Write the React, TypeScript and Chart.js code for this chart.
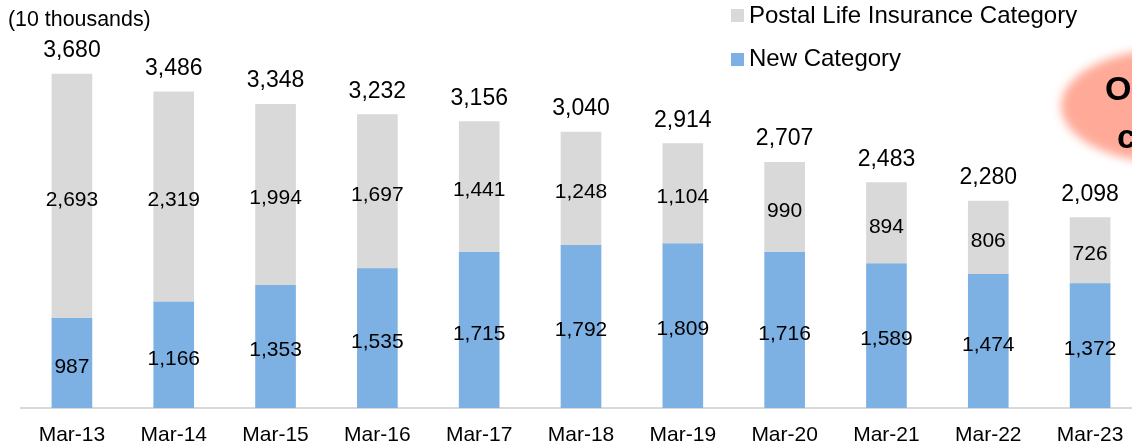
import React, { useEffect, useRef } from 'react';
import { Chart, registerables } from 'chart.js';

Chart.register(...registerables);

const categories = ['Mar-13', 'Mar-14', 'Mar-15', 'Mar-16', 'Mar-17', 'Mar-18', 'Mar-19', 'Mar-20', 'Mar-21', 'Mar-22', 'Mar-23'];
const newCategory = [987, 1166, 1353, 1535, 1715, 1792, 1809, 1716, 1589, 1474, 1372];
const postalCategory = [2693, 2319, 1994, 1697, 1441, 1248, 1104, 990, 894, 806, 726];
const totals = [3680, 3486, 3348, 3232, 3156, 3040, 2914, 2707, 2483, 2280, 2098];

const FONT = '"Liberation Sans", Arial, sans-serif';
const BLUE = '#7DB1E4';
const GRAY = '#D9D9D9';

const fmt = (v: number) => v.toLocaleString('en-US');

const valueLabels = {
  id: 'valueLabels',
  afterDatasetsDraw(chart: any) {
    const ctx = chart.ctx;
    ctx.save();
    ctx.fillStyle = '#000';
    ctx.textAlign = 'center';
    ctx.textBaseline = 'alphabetic';
    ctx.font = `21px ${FONT}`;
    chart.data.datasets.forEach((ds: any, di: number) => {
      const meta = chart.getDatasetMeta(di);
      meta.data.forEach((bar: any, i: number) => {
        const { x, y, base } = bar.getProps(['x', 'y', 'base'], true);
        ctx.fillText(fmt(ds.data[i]), x, (y + base) / 2 + 9.5);
      });
    });
    ctx.font = `23px ${FONT}`;
    const topMeta = chart.getDatasetMeta(1);
    topMeta.data.forEach((bar: any, i: number) => {
      ctx.fillText(fmt(totals[i]), bar.x, bar.y - 17);
    });
    ctx.restore();
  },
};

export default function App() {
  const ref = useRef<HTMLCanvasElement | null>(null);

  useEffect(() => {
    if (!ref.current) return;
    const chart = new Chart(ref.current, {
      type: 'bar',
      data: {
        labels: categories,
        datasets: [
          { label: 'New Category', data: newCategory, backgroundColor: BLUE, barThickness: 40 },
          { label: 'Postal Life Insurance Category', data: postalCategory, backgroundColor: GRAY, barThickness: 40 },
        ],
      },
      options: {
        responsive: false,
        animation: false,
        layout: { padding: { left: 21, right: 19, top: 45, bottom: 0 } },
        plugins: { legend: { display: false }, tooltip: { enabled: false } },
        scales: {
          x: {
            stacked: true,
            grid: { display: false },
            border: { display: true, color: GRAY, width: 2 },
            ticks: { color: '#000', font: { family: FONT, size: 21 }, padding: 7, maxRotation: 0, autoSkip: false },
            afterFit: (s: any) => { s.height = 38; },
          },
          y: { stacked: true, display: false, min: 0, max: 4000 },
        },
      },
      plugins: [valueLabels],
    });
    return () => chart.destroy();
  }, []);

  const txt: React.CSSProperties = { position: 'absolute', fontFamily: FONT, color: '#000', whiteSpace: 'nowrap' };

  return (
    <div style={{ position: 'fixed', left: 0, top: 0, width: 1132, height: 446, overflow: 'hidden', background: '#fff' }}>
      <canvas ref={ref} width={1160} height={446} style={{ display: 'block', width: 1160, height: 446 }} />
      <div style={{ ...txt, left: 8, top: 8, fontSize: 21.4, lineHeight: '22px' }}>(10 thousands)</div>
      <div style={{ position: 'absolute', left: 731, top: 9, width: 13, height: 13, background: GRAY }} />
      <div style={{ ...txt, left: 749, top: 3, fontSize: 24, lineHeight: '24px' }}>Postal Life Insurance Category</div>
      <div style={{ position: 'absolute', left: 731, top: 53, width: 13, height: 13, background: BLUE }} />
      <div style={{ ...txt, left: 749, top: 46, fontSize: 24, lineHeight: '24px' }}>New Category</div>
      <div
        style={{
          position: 'absolute',
          left: 1061,
          top: 49,
          width: 220,
          height: 114,
          borderRadius: '50%',
          background: 'rgb(255,170,152)',
          filter: 'blur(5px)',
        }}
      />
      <div style={{ ...txt, left: 1105, top: 71, fontSize: 34, lineHeight: '34px', fontWeight: 'bold' }}>O</div>
      <div style={{ ...txt, left: 1117, top: 119, fontSize: 34, lineHeight: '34px', fontWeight: 'bold' }}>c</div>
    </div>
  );
}
